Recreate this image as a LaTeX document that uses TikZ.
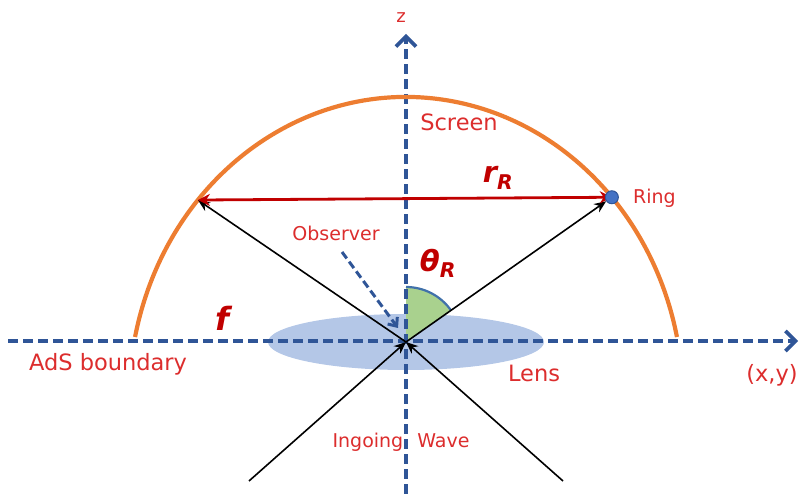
\documentclass[tikz,border=0pt]{standalone}
\usepackage{fontspec}
\setmainfont{DejaVu Sans}
\usetikzlibrary{arrows.meta,calc}
\definecolor{axisblue}{RGB}{47,85,151}
\definecolor{screenorange}{RGB}{237,125,49}
\definecolor{lensblue}{RGB}{180,199,231}
\definecolor{wedgegreen}{RGB}{169,209,142}
\definecolor{wedgeblue}{RGB}{65,113,170}
\definecolor{labelred}{RGB}{220,45,45}
\definecolor{darkred}{RGB}{192,0,0}
\definecolor{dotblue}{RGB}{68,114,196}
\pgfdeclarelayer{fg}
\pgfsetlayers{main,fg}
\tikzset{
  axis/.style={draw=axisblue, line width=3.6pt, dash pattern=on 10pt off 5pt,
    -{Straight Barb[length=10pt,width=20pt]}},
  obsarrow/.style={draw=axisblue, line width=3pt, dash pattern=on 8pt off 4pt,
    -{Straight Barb[length=7pt,width=12pt]}},
  screenline/.style={draw=screenorange, line width=4.2pt},
  ray/.style={draw=black, line width=1.6pt, -{Stealth[length=12pt,width=10pt]}},
  rline/.style={draw=darkred, line width=2.8pt, {Stealth[length=12pt,width=12pt]}-{Stealth[length=12pt,width=12pt]}},
  lbl/.style={text=labelred, font=\fontsize{22.5pt}{26pt}\selectfont, inner sep=0pt},
  smalllbl/.style={text=labelred, font=\fontsize{19pt}{22pt}\selectfont, inner sep=0pt},
  mathlbl/.style={text=darkred, font=\fontsize{29pt}{32pt}\selectfont\bfseries\itshape, inner sep=0pt},
  ringdot/.style={circle, fill=dotblue, draw=axisblue, line width=1pt, minimum size=13pt, inner sep=0pt}
}
\begin{document}
\begin{tikzpicture}[x=1pt,y=1pt]
\useasboundingbox (0,0) rectangle (800,494);
\coordinate (O) at (406,152);
\coordinate (C) at (406,94);
\coordinate (L) at ($(C)+(138.7:277pt and 303pt)$);
\coordinate (R) at ($(C)+(42:277pt and 303pt)$);
\coordinate (xs) at (8,153);
\coordinate (xe) at (798,153);
\coordinate (zs) at (406,0);
\coordinate (ze) at (406,460);
\coordinate (w1) at (249,13);
\coordinate (w2) at (563,13);
\coordinate (ob1) at (342,242);
\coordinate (ob2) at (398,166);
% lens
\fill[lensblue] (O) ellipse [x radius=138pt, y radius=28pt];
% angle wedge
\fill[wedgegreen] (O) -- ($(O)+(35:55pt)$) arc[start angle=35, end angle=90, radius=55pt] -- cycle;
\draw[wedgeblue, line width=2.2pt] ($(O)+(35:55pt)$) arc[start angle=35, end angle=90, radius=55pt];
% axes
\draw[axis] (xs) -- (xe);
\draw[axis] (zs) -- (ze);
% screen
\draw[screenline] ($(C)+(168:277pt and 303pt)$) arc[start angle=168, end angle=12, x radius=277pt, y radius=303pt];
% ring dot (on top layer)
\begin{pgfonlayer}{fg}
\node[ringdot] (ring) at (R) {};
\end{pgfonlayer}
% rays
\draw[ray] (O) -- (L);
\draw[ray] (O) -- (ring);
\draw[rline] (L) -- (ring.center);
\draw[ray] (w1) -- (O);
\draw[ray] (w2) -- (O);
\draw[obsarrow] (ob1) -- (ob2);
% labels
\node[smalllbl, font=\fontsize{18pt}{21pt}\selectfont] (zl) at (401,476) {z};
\node[lbl] (screenl) at (459,372) {Screen};
\node[mathlbl] (rl) at (498,316) {r\textsubscript{R}};
\node[smalllbl, anchor=west] (ringl) at (633,296) {Ring};
\node[smalllbl] (obsl) at (336,261) {Observer};
\node[mathlbl] (thl) at (438,231) {θ\textsubscript{R}};
\node[mathlbl, font=\fontsize{32pt}{34pt}\selectfont\bfseries\itshape] (fl) at (222,176) {f};
\node[lbl] (adsl) at (108,130) {AdS boundary};
\node[lbl] (lensl) at (534,121) {Lens};
\node[lbl] (xyl) at (772,119) {(x,y)};
\node[smalllbl] (wavel) at (401,52) {Ingoing\hspace{14pt}Wave};
\end{tikzpicture}
\end{document}
